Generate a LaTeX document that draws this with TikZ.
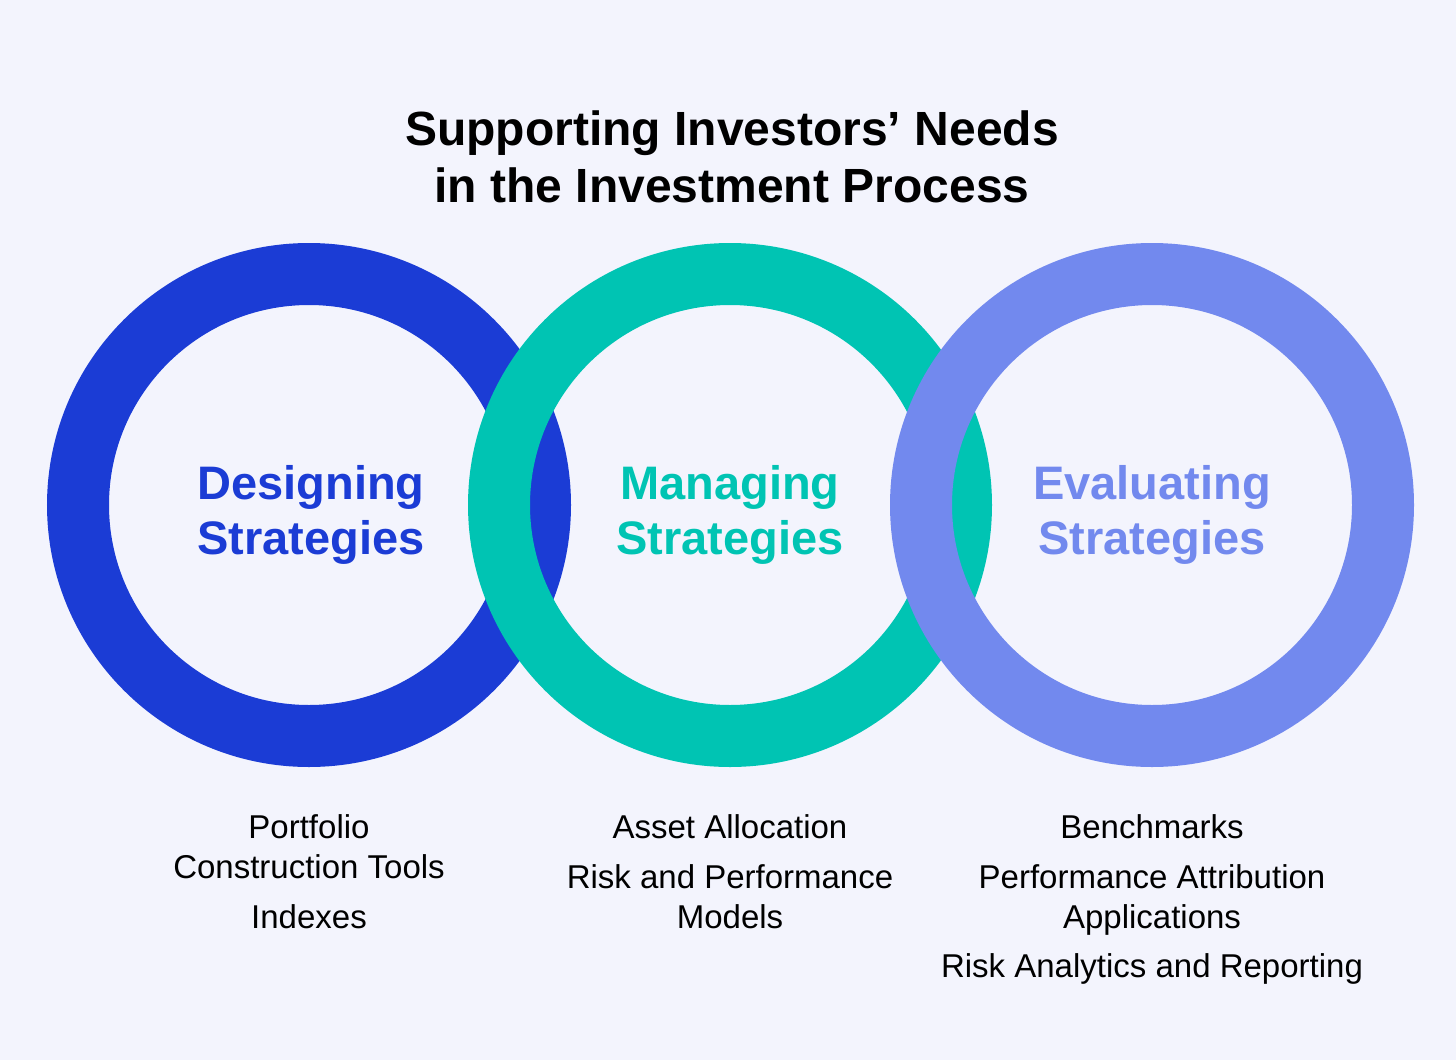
\documentclass[tikz,border=0pt]{standalone}
\usepackage{fontspec}
\setmainfont{Liberation Sans}
\usepackage{xcolor}
\usetikzlibrary{positioning}
\definecolor{pagebg}{HTML}{F3F4FD}
\definecolor{designblue}{HTML}{1B3CD5}
\definecolor{manageteal}{HTML}{00C4B3}
\definecolor{evallav}{HTML}{7289EE}
\tikzset{
  ring/.style={
    line width = 62pt,
    draw
  },
}
\tikzset{
  heading/.style={
    font = \fontsize{48}{57}\selectfont\bfseries,
    align = center,
    inner sep = 0pt,
    anchor = base
  },
  stage/.style={
    font = \fontsize{47}{55}\selectfont\bfseries,
    align = center,
    inner sep = 0pt,
    anchor = base
  },
  item/.style={
    font = \fontsize{33}{40}\selectfont,
    align = center,
    inner sep = 0pt,
    anchor = base
  }
}

\begin{document}
\begin{tikzpicture}[x=1pt,y=-1pt]
    \fill[pagebg] (0,0) rectangle (1456,1060);
    \useasboundingbox (0,0) rectangle (1456,1060);

    \def\Cy{505};
    \def\Rr{231pt};

    % rings, later ones on top
    \draw[ring, designblue] (309,\Cy) circle (\Rr);
    \draw[ring, manageteal] (730,\Cy) circle (\Rr);
    \draw[ring, evallav] (1152,\Cy) circle (\Rr);

    % base anchor sits on the last line
    \node[heading] (title) at (732,202) {Supporting Investors’ Needs\\in the Investment Process};

    \node[stage, text=designblue] (design) at (311,554) {Designing\\Strategies};
    \node[stage, text=manageteal] (manage) at (730,554) {Managing\\Strategies};
    \node[stage, text=evallav] (evaluate) at (1152,554) {Evaluating\\Strategies};

    \node[item] (portfolio) at (309,878) {Portfolio\\Construction Tools};
    \node[item] (indexes) at (309,928) {Indexes};

    \node[item] (asset) at (730,838) {Asset Allocation};
    \node[item] (riskperf) at (730,928) {Risk and Performance\\Models};

    \node[item] (bench) at (1152,838) {Benchmarks};
    \node[item] (attrib) at (1152,928) {Performance Attribution\\Applications};
    \node[item] (riskrep) at (1152,977) {Risk Analytics and Reporting};
\end{tikzpicture}
\end{document}
